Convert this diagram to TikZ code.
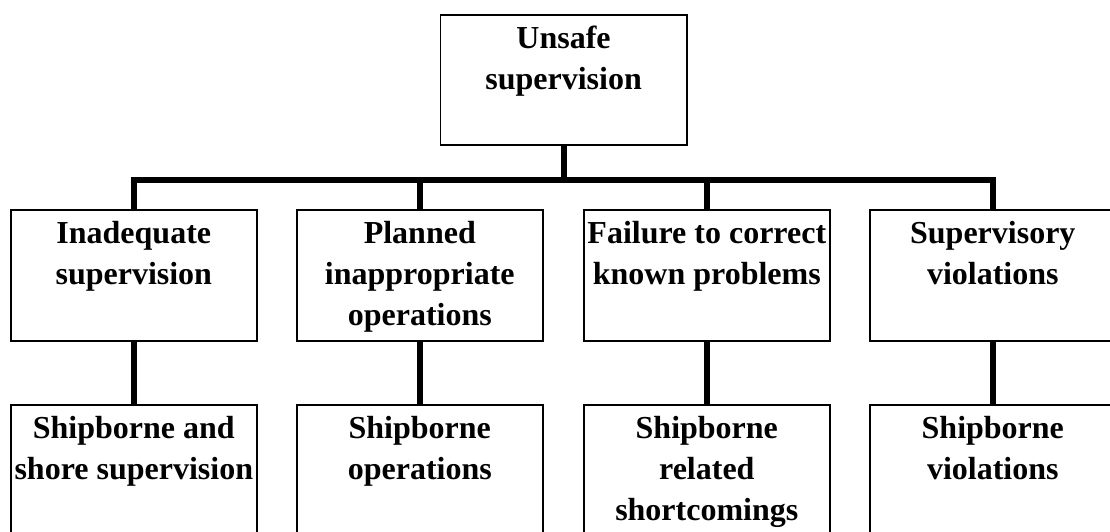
\documentclass[tikz,border=0pt]{standalone}
\usepackage{fontspec}
\setmainfont{Liberation Serif}
\begin{document}
\begin{tikzpicture}[x=1pt,y=-1pt,
  box/.style={draw=black, line width=1.6pt, minimum width=246pt, anchor=north west, inner sep=0pt},
  lbl/.style={anchor=north, align=center, inner sep=0pt, font=\fontsize{32}{41}\selectfont\bfseries},
  conn/.style={line width=6pt}]
\useasboundingbox (0,0) rectangle (1110,532);
\fill[white] (0,0) rectangle (1110,532);

% root
\node[box, minimum width=246.5pt, minimum height=130pt] (top) at (439.5,14) {};
\node[lbl] (topT) at ([yshift=-10pt]top.north) {\rule{0pt}{24pt}Unsafe\\supervision};

% second level
\node[box, minimum height=131pt] (m1) at (10,209) {};
\node[box, minimum height=131pt] (m2) at (296,209) {};
\node[box, minimum height=131pt] (m3) at (583,209) {};
\node[box, minimum height=131pt] (m4) at (869,209) {};
\node[lbl] (m1T) at ([yshift=-10pt]m1.north) {\rule{0pt}{24pt}Inadequate\\supervision};
\node[lbl] (m2T) at ([yshift=-10pt]m2.north) {\rule{0pt}{24pt}Planned\\inappropriate\\operations};
\node[lbl] (m3T) at ([yshift=-10pt]m3.north) {\rule{0pt}{24pt}Failure to correct\\known problems};
\node[lbl] (m4T) at ([yshift=-10pt]m4.north) {\rule{0pt}{24pt}Supervisory\\violations};

% third level
\node[box, minimum height=140pt] (b1) at (10,404) {};
\node[box, minimum height=140pt] (b2) at (296,404) {};
\node[box, minimum height=140pt] (b3) at (583,404) {};
\node[box, minimum height=140pt] (b4) at (869,404) {};
\node[lbl] (b1T) at ([yshift=-10pt]b1.north) {\rule{0pt}{24pt}Shipborne and\\shore supervision};
\node[lbl] (b2T) at ([yshift=-10pt]b2.north) {\rule{0pt}{24pt}Shipborne\\operations};
\node[lbl] (b3T) at ([yshift=-10pt]b3.north) {\rule{0pt}{24pt}Shipborne\\related\\shortcomings};
\node[lbl] (b4T) at ([yshift=-10pt]b4.north) {\rule{0pt}{24pt}Shipborne\\violations};

% connectors
\coordinate (bus) at (563,180);
\draw[conn] (top.south) -- (top.south |- bus);
\draw[conn] (m1.north) |- (bus) -| (m4.north);
\draw[conn] (m2.north) -- (m2.north |- bus);
\draw[conn] (m3.north) -- (m3.north |- bus);
\draw[conn] (m1.south) -- (b1.north);
\draw[conn] (m2.south) -- (b2.north);
\draw[conn] (m3.south) -- (b3.north);
\draw[conn] (m4.south) -- (b4.north);
\end{tikzpicture}
\end{document}
